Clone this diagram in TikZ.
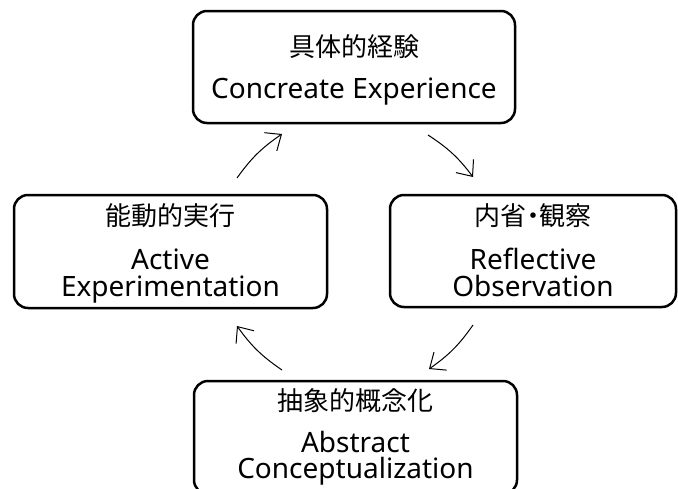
\documentclass[tikz,border=0pt]{standalone}
\usepackage{fontspec}
\setmainfont{Noto Sans}
\newfontfamily\jpfont{Noto Sans CJK JP}
\usetikzlibrary{arrows.meta}
\begin{document}
\begin{tikzpicture}[x=1pt,y=-1pt,
  stagebox/.style={draw=black,line width=2.5pt,rounded corners=14pt,inner sep=0pt,fill=white},
  jplabel/.style={anchor=base,inner sep=0pt,font=\jpfont\fontsize{26}{28}\selectfont},
  enlabel/.style={anchor=base,inner sep=0pt,font=\fontsize{28}{30}\selectfont},
  cyclearrow/.style={line width=1pt,-{Straight Barb[length=13pt,width=22pt,line width=1pt]}}]
\clip (0,0) rectangle (678,488);
\fill[white] (0,0) rectangle (678,488);
% boxes
\node[stagebox,minimum width=322pt,minimum height=112pt] (ce) at (354,67) {};
\node[stagebox,minimum width=286pt,minimum height=112pt] (ro) at (533,251) {};
\node[stagebox,minimum width=313pt,minimum height=113pt] (ae) at (170.5,251.5) {};
\node[stagebox,minimum width=323pt,minimum height=113pt] (ac) at (355.5,437.5) {};
% labels
\node[jplabel] (cej) at (354,56) {具体的経験};
\node[enlabel] (cee) at (354,98) {Concreate Experience};
\node[jplabel] (roj) at (533,225) {内省\kern-0.25em・\kern-0.25em観察};
\node[enlabel] (roe1) at (533,269) {Reflective};
\node[enlabel] (roe2) at (533,296) {Observation};
\node[jplabel] (aej) at (170.5,225) {能動的実行};
\node[enlabel] (aee1) at (170.5,269) {Active};
\node[enlabel] (aee2) at (170.5,296) {Experimentation};
\node[jplabel] (acj) at (355.5,410) {抽象的概念化};
\node[enlabel] (ace1) at (355.5,452) {Abstract};
\node[enlabel] (ace2) at (355.5,478) {Conceptualization};
% arrow ends
\coordinate (a1s) at (237,178);
\coordinate (a1e) at (282,134);
\coordinate (a2s) at (428,135);
\coordinate (a2e) at (473,177);
\coordinate (a3s) at (473,325);
\coordinate (a3e) at (429,369);
\coordinate (a4s) at (282,370);
\coordinate (a4e) at (237,326);
\draw[cyclearrow] (a1s) to[bend left=10] (a1e);
\draw[cyclearrow] (a2s) to[bend left=10] (a2e);
\draw[cyclearrow] (a3s) to[bend left=10] (a3e);
\draw[cyclearrow] (a4s) to[bend left=10] (a4e);
\end{tikzpicture}
\end{document}
